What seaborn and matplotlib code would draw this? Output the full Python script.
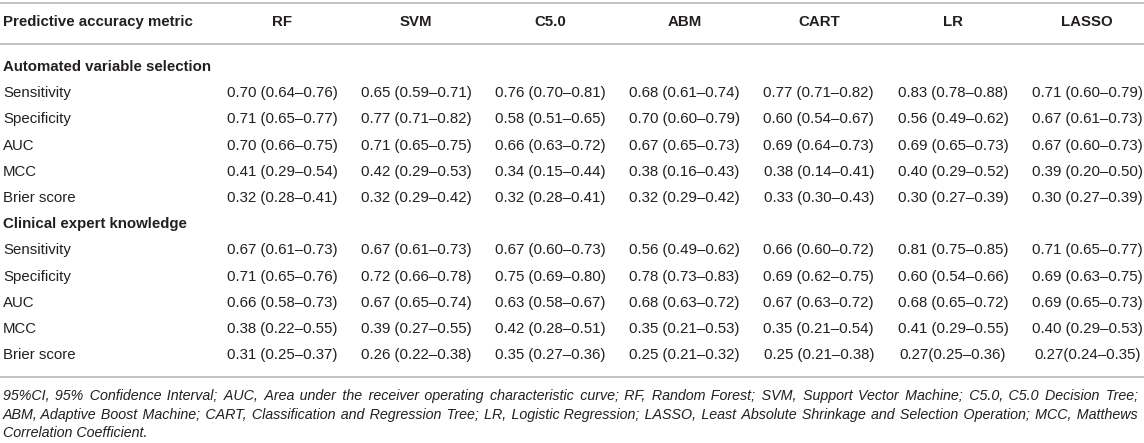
import matplotlib
matplotlib.use('Agg')
import matplotlib.pyplot as plt
import seaborn as sns

# Table content
models = ['RF', 'SVM', 'C5.0', 'ABM', 'CART', 'LR', 'LASSO']
metrics = ['Sensitivity', 'Specificity', 'AUC', 'MCC', 'Brier score']
groups = ['Automated variable selection', 'Clinical expert knowledge']

automated = [
    ['0.70 (0.64–0.76)', '0.65 (0.59–0.71)', '0.76 (0.70–0.81)', '0.68 (0.61–0.74)', '0.77 (0.71–0.82)', '0.83 (0.78–0.88)', '0.71 (0.60–0.79)'],
    ['0.71 (0.65–0.77)', '0.77 (0.71–0.82)', '0.58 (0.51–0.65)', '0.70 (0.60–0.79)', '0.60 (0.54–0.67)', '0.56 (0.49–0.62)', '0.67 (0.61–0.73)'],
    ['0.70 (0.66–0.75)', '0.71 (0.65–0.75)', '0.66 (0.63–0.72)', '0.67 (0.65–0.73)', '0.69 (0.64–0.73)', '0.69 (0.65–0.73)', '0.67 (0.60–0.73)'],
    ['0.41 (0.29–0.54)', '0.42 (0.29–0.53)', '0.34 (0.15–0.44)', '0.38 (0.16–0.43)', '0.38 (0.14–0.41)', '0.40 (0.29–0.52)', '0.39 (0.20–0.50)'],
    ['0.32 (0.28–0.41)', '0.32 (0.29–0.42)', '0.32 (0.28–0.41)', '0.32 (0.29–0.42)', '0.33 (0.30–0.43)', '0.30 (0.27–0.39)', '0.30 (0.27–0.39)'],
]
clinical = [
    ['0.67 (0.61–0.73)', '0.67 (0.61–0.73)', '0.67 (0.60–0.73)', '0.56 (0.49–0.62)', '0.66 (0.60–0.72)', '0.81 (0.75–0.85)', '0.71 (0.65–0.77)'],
    ['0.71 (0.65–0.76)', '0.72 (0.66–0.78)', '0.75 (0.69–0.80)', '0.78 (0.73–0.83)', '0.69 (0.62–0.75)', '0.60 (0.54–0.66)', '0.69 (0.63–0.75)'],
    ['0.66 (0.58–0.73)', '0.67 (0.65–0.74)', '0.63 (0.58–0.67)', '0.68 (0.63–0.72)', '0.67 (0.63–0.72)', '0.68 (0.65–0.72)', '0.69 (0.65–0.73)'],
    ['0.38 (0.22–0.55)', '0.39 (0.27–0.55)', '0.42 (0.28–0.51)', '0.35 (0.21–0.53)', '0.35 (0.21–0.54)', '0.41 (0.29–0.55)', '0.40 (0.29–0.53)'],
    ['0.31 (0.25–0.37)', '0.26 (0.22–0.38)', '0.35 (0.27–0.36)', '0.25 (0.21–0.32)', '0.25 (0.21–0.38)', '0.27(0.25–0.36)', '0.27(0.24–0.35)'],
]

footnote = [
    '95%CI, 95% Confidence Interval; AUC, Area under the receiver operating characteristic curve; '
    'RF, Random Forest; SVM, Support Vector Machine; C5.0, C5.0 Decision Tree;',
    'ABM, Adaptive Boost Machine; CART, Classification and Regression Tree; LR, Logistic Regression; '
    'LASSO, Least Absolute Shrinkage and Selection Operation; MCC, Matthews',
    'Correlation Coefficient.',
]

sns.set_theme(style='white')
plt.rcParams['font.family'] = ['Liberation Sans', 'DejaVu Sans']

TEXT = '#231f20'
RULE = '#bdbdbd'
FS = 10.8

fig = plt.figure(figsize=(11.44, 4.43), dpi=100)
ax = fig.add_axes([0, 0, 1, 1])
ax.set_xlim(0, 1144)
ax.set_ylim(443, 0)
ax.axis('off')

col_x = [282 + 134.2 * i for i in range(len(models))]

# header
ax.axhline(3, color=RULE, lw=1.3)
ax.text(3, 22, 'Predictive accuracy metric', fontsize=FS, fontweight='bold',
        color=TEXT, va='center')
for x, m in zip(col_x, models):
    ax.text(x, 22, m, fontsize=FS, fontweight='bold', color=TEXT,
            va='center', ha='center')
ax.axhline(44, color=RULE, lw=1.3)

# body
y = 67
step = 26.2
for group, block in zip(groups, [automated, clinical]):
    ax.text(3, y, group, fontsize=FS, fontweight='bold', color=TEXT, va='center')
    y += step
    for metric, row in zip(metrics, block):
        ax.text(3, y, metric, fontsize=FS, color=TEXT, va='center')
        for x, val in zip(col_x, row):
            ax.text(x, y, val, fontsize=FS, color=TEXT, va='center', ha='center')
        y += step
ax.axhline(377, color=RULE, lw=1.3)

# footnote: justify the first two lines by padding the spaces with narrow
# spaces, so every line stays one text object on one baseline
renderer = fig.canvas.get_renderer()
LEFT, RIGHT = 3, 1139
kw = dict(fontsize=FS, style='italic', color=TEXT, va='baseline')


def text_width(s):
    t = ax.text(0, 0, s, **kw)
    w = t.get_window_extent(renderer).width
    t.remove()
    return w


# shrink the footnote font until the longest line fits with a little slack
while max(text_width(l) for l in footnote[:2]) > (RIGHT - LEFT) - 20:
    kw['fontsize'] -= 0.1


def padded(words, pad, n):
    gaps = len(words) - 1
    out = words[0]
    for g in range(gaps):
        k = (g + 1) * n // gaps - g * n // gaps
        out += ' ' + pad * k + words[g + 1]
    return out


def justify(line):
    words = line.split(' ')
    gaps = len(words) - 1
    base = text_width(line)
    extra = (RIGHT - LEFT) - base
    if extra <= 0:
        return line
    for pad in ['\u200a', '\u2009', ' ']:
        unit = (text_width(padded(words, pad, gaps)) - base) / gaps
        if 0.4 < unit < 5:
            break
    n = int(round(extra / unit))
    while n > 0 and text_width(padded(words, pad, n)) > RIGHT - LEFT + 0.5:
        n -= 1
    return padded(words, pad, n)


baselines = [400, 418.5, 437]
for i, line in enumerate(footnote):
    if i < len(footnote) - 1:
        line = justify(line)
    ax.text(LEFT, baselines[i], line, **kw)

fig.savefig('out.png', dpi=100)
